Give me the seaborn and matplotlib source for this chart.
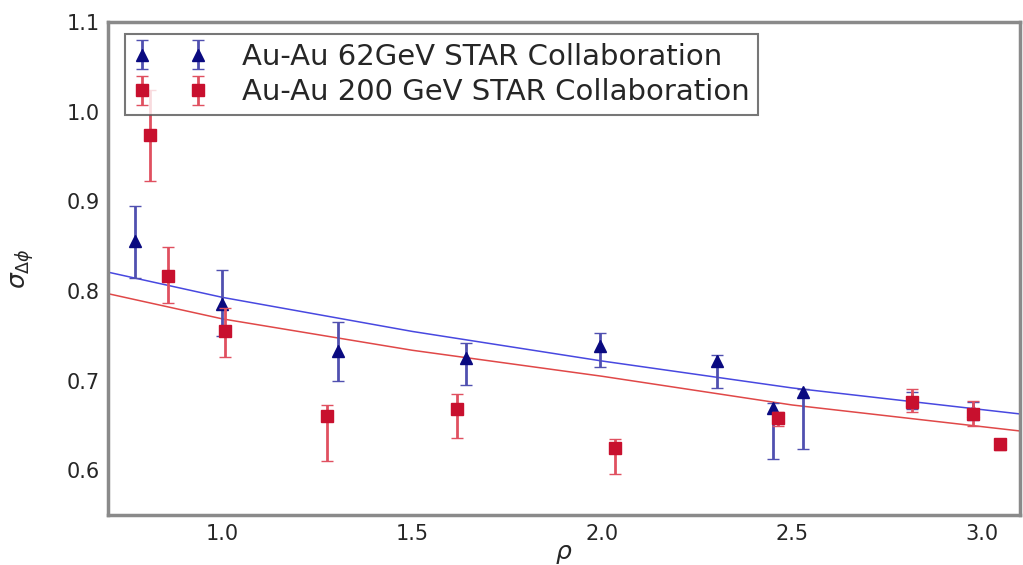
import numpy as np
import pandas as pd
import matplotlib
matplotlib.use("Agg")
import matplotlib.pyplot as plt
import seaborn as sns

# --- data ---
rho_62 = [0.771, 1.000, 1.305, 1.642, 1.995, 2.303, 2.450, 2.530, 2.816, 2.976]
sig_62 = [0.856, 0.786, 0.733, 0.725, 0.739, 0.722, 0.670, 0.687, 0.678, 0.666]
err_62_lo = [0.041, 0.036, 0.033, 0.030, 0.024, 0.030, 0.057, 0.063, 0.010, 0.010]
err_62_hi = [0.039, 0.037, 0.032, 0.017, 0.014, 0.007, 0.005, 0.004, 0.010, 0.010]

rho_200 = [0.810, 0.858, 1.008, 1.276, 1.618, 2.034, 2.463, 2.816, 2.976, 3.047]
sig_200 = [0.974, 0.817, 0.755, 0.661, 0.669, 0.625, 0.658, 0.676, 0.663, 0.629]
err_200_lo = [0.051, 0.030, 0.029, 0.050, 0.033, 0.029, 0.008, 0.011, 0.013, 0.006]
err_200_hi = [0.050, 0.032, 0.026, 0.012, 0.016, 0.010, 0.007, 0.015, 0.014, 0.006]

fit_rho = [0.70, 1.00, 1.50, 2.00, 2.50, 3.10]
fit_62 = [0.821, 0.793, 0.755, 0.722, 0.692, 0.663]
fit_200 = [0.797, 0.769, 0.734, 0.705, 0.673, 0.644]

labels = ["Au-Au 62GeV STAR Collaboration", "Au-Au 200 GeV STAR Collaboration"]
x_ticks = [1.0, 1.5, 2.0, 2.5, 3.0]
y_ticks = [0.6, 0.7, 0.8, 0.9, 1.0, 1.1]

sns.set_style("white")
plt.rcParams['font.family'] = ['DejaVu Sans']

fig = plt.figure(figsize=(10.23, 5.65), dpi=100)
ax = fig.add_axes([0.106, 0.088, 0.891, 0.873])

fit_df = pd.DataFrame({"rho": fit_rho * 2,
                       "sigma": fit_62 + fit_200,
                       "set": ["62"] * len(fit_rho) + ["200"] * len(fit_rho)})
sns.lineplot(data=fit_df, x="rho", y="sigma", hue="set",
             palette={"62": "#4848e0", "200": "#e04848"},
             linewidth=1.1, legend=False, ax=ax, zorder=2)

blue = "#0a0a80"
red = "#c8102e"
ax.errorbar(rho_62, sig_62, yerr=[err_62_lo, err_62_hi], fmt="^", color=blue,
            ecolor="#5050b0", elinewidth=2, capsize=4, markersize=8,
            label=labels[0], zorder=3)
ax.errorbar(rho_200, sig_200, yerr=[err_200_lo, err_200_hi], fmt="s", color=red,
            ecolor="#e05060", elinewidth=2, capsize=4, markersize=9,
            label=labels[1], zorder=4)

ax.set_xlim(0.7, 3.1)
ax.set_ylim(0.55, 1.1)
ax.set_xticks(x_ticks)
ax.set_yticks(y_ticks)
ax.set_xticklabels([f"{t:.1f}" for t in x_ticks])
ax.set_yticklabels([f"{t:.1f}" for t in y_ticks])
ax.tick_params(axis="both", labelsize=15, direction="in", length=5,
               color="#888888", width=1.2, pad=6)
for s in ax.spines.values():
    s.set_visible(True)
    s.set_color("#8a8a8a")
    s.set_linewidth(2.5)

ax.set_xlabel(r"$\rho$", fontsize=18)
ax.xaxis.set_label_coords(0.5, -0.055)
ax.set_ylabel(r"$\sigma_{\Delta\phi}$", fontsize=18)
ax.yaxis.set_label_coords(-0.08, 0.5)

leg = ax.legend(loc="upper left", numpoints=2, fontsize=21, frameon=True,
                fancybox=False, edgecolor="#555555", borderaxespad=0.0,
                borderpad=0.3, handletextpad=1.2, handlelength=2.5,
                labelspacing=0.25, bbox_to_anchor=(0.018, 0.975))
leg.get_frame().set_linewidth(1.5)

fig.savefig("out.png", dpi=100, facecolor="white")
